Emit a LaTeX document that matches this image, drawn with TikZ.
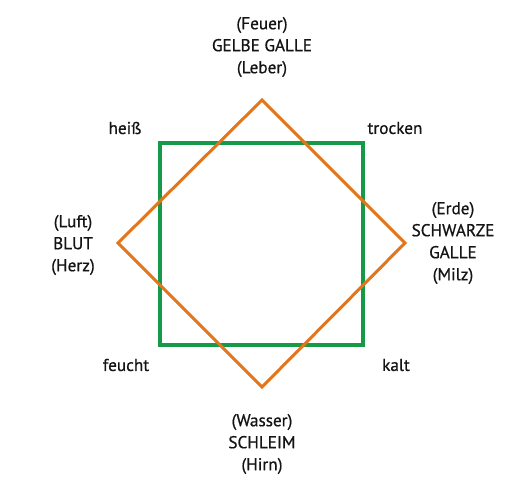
\documentclass[tikz,border=0pt]{standalone}
\usepackage{fontspec}
\setmainfont{PT Sans}
\newfontfamily\lblf{PT Sans}[FakeBold=0.7]
\definecolor{sqgreen}{RGB}{22,154,72}
\definecolor{dorange}{RGB}{226,118,28}
\definecolor{txt}{RGB}{20,20,20}
\begin{document}
\begin{tikzpicture}[x=1pt,y=-1pt,
  lbl/.style={text=txt,font=\lblf\fontsize{17.2}{22}\selectfont,align=center,inner sep=0pt}]
\useasboundingbox (0,0) rectangle (515,500);
\draw[sqgreen,line width=3.6pt] (160,143) rectangle (363,345);
\draw[dorange,line width=3pt,line join=miter] (262,100) -- (405,243) -- (262,387) -- (118,243) -- cycle;
\node[lbl] (top) at (262,47) {(Feuer)\\GELBE GALLE\\(Leber)};
\node[lbl] (bot) at (262,444) {(Wasser)\\SCHLEIM\\(Hirn)};
\node[lbl] (lft) at (73,245) {(Luft)\\BLUT\\(Herz)};
\node[lbl] (rgt) at (453,243) {(Erde)\\SCHWARZE\\GALLE\\(Milz)};
\node[lbl] (hs) at (125,128) {heiß};
\node[lbl] (tr) at (395,128) {trocken};
\node[lbl] (fe) at (126,365) {feucht};
\node[lbl] (ka) at (396,365) {kalt};
\end{tikzpicture}
\end{document}
